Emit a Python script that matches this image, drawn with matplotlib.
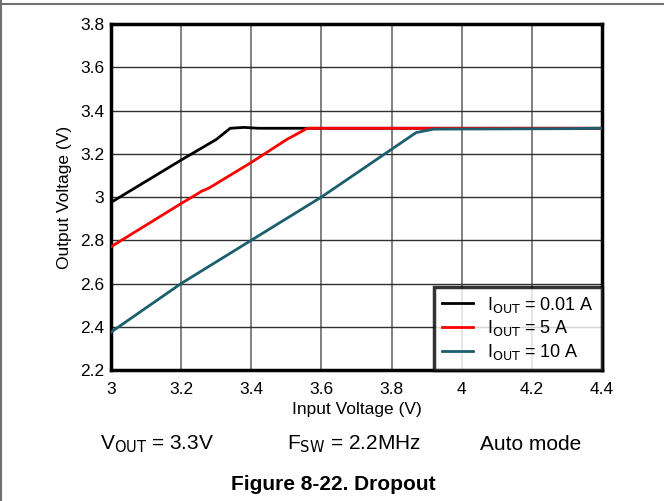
import numpy as np
import matplotlib.pyplot as plt

plt.rcParams['font.family'] = ['Liberation Sans', 'DejaVu Sans']

# Data
vin_001 = [3.0, 3.1, 3.2, 3.3, 3.34, 3.38, 3.42, 4.4]
vout_001 = [2.975, 3.073, 3.171, 3.266, 3.318, 3.322, 3.318, 3.318]

vin_5 = [3.0, 3.1, 3.2, 3.26, 3.28, 3.4, 3.5, 3.56, 4.4]
vout_5 = [2.77, 2.87, 2.97, 3.028, 3.042, 3.16, 3.265, 3.318, 3.318]

vin_10 = [3.0, 3.2, 3.4, 3.6, 3.87, 3.92, 4.3, 4.4]
vout_10 = [2.375, 2.6, 2.8, 3.0, 3.298, 3.314, 3.316, 3.318]

series = [
    (vin_001, vout_001, '#000000', r'I$_{\mathrm{OUT}}$ = 0.01 A'),
    (vin_5, vout_5, '#ff0000', r'I$_{\mathrm{OUT}}$ = 5 A'),
    (vin_10, vout_10, '#1b5e6e', r'I$_{\mathrm{OUT}}$ = 10 A'),
]

xticks = [3.0, 3.2, 3.4, 3.6, 3.8, 4.0, 4.2, 4.4]
xlabels = ['3', '3.2', '3.4', '3.6', '3.8', '4', '4.2', '4.4']
yticks = [2.2, 2.4, 2.6, 2.8, 3.0, 3.2, 3.4, 3.6, 3.8]
ylabels = ['2.2', '2.4', '2.6', '2.8', '3', '3.2', '3.4', '3.6', '3.8']

fig = plt.figure(figsize=(6.64, 5.01), dpi=100)
ax = fig.add_axes([0.1672, 0.2615, 0.7394, 0.6905])

# grid: vertical gray, horizontal dark
for x in xticks[1:-1]:
    ax.axvline(x, color='#808080', lw=1.4, zorder=1)
for y in yticks[1:-1]:
    ax.axhline(y, color='#303030', lw=1.0, zorder=1)

for xs, ys, c, lab in series:
    ax.plot(xs, ys, color=c, lw=2, label=lab, zorder=3)

ax.set_xlim(3.0, 4.4)
ax.set_ylim(2.2, 3.8)
ax.set_xticks(xticks)
ax.set_xticklabels(xlabels)
ax.set_yticks(yticks)
ax.set_yticklabels(ylabels)
ax.tick_params(axis='x', length=0, labelsize=12.5, pad=9)
ax.tick_params(axis='y', length=0, labelsize=12.5, pad=5)
for s in ax.spines.values():
    s.set_linewidth(2.5)
ax.set_xlabel('Input Voltage (V)', fontsize=12.5, labelpad=3)
ax.set_ylabel('Output Voltage (V)', fontsize=12.5, labelpad=6)

leg = ax.legend(loc='lower right', fontsize=13, frameon=True, fancybox=False,
                borderaxespad=0, handlelength=1.7, handletextpad=0.8,
                labelspacing=0.2, borderpad=0.45)
leg.get_frame().set_edgecolor('black')
leg.get_frame().set_linewidth(2.5)
leg.set_zorder(5)

fig.text(100 / 664, 1 - 444 / 501, r'V$_{\mathrm{OUT}}$ = 3.3V', fontsize=15, va='center')
fig.text(287 / 664, 1 - 444 / 501, r'F$_{\mathrm{SW}}$ = 2.2MHz', fontsize=15, va='center')
fig.text(480 / 664, 1 - 444 / 501, 'Auto mode', fontsize=15, va='center')
fig.text(333 / 664, 1 - 485 / 501, 'Figure 8-22. Dropout', fontsize=15,
         fontweight='bold', ha='center', va='center')

# page frame (top and left edges)
fig.add_artist(plt.Line2D([0, 1], [1 - 3.5 / 501] * 2, color='#707070', lw=1.5,
                          transform=fig.transFigure))
fig.add_artist(plt.Line2D([0.5 / 664] * 2, [0, 1], color='#707070', lw=1.5,
                          transform=fig.transFigure))

fig.savefig('out.png', dpi=100)
